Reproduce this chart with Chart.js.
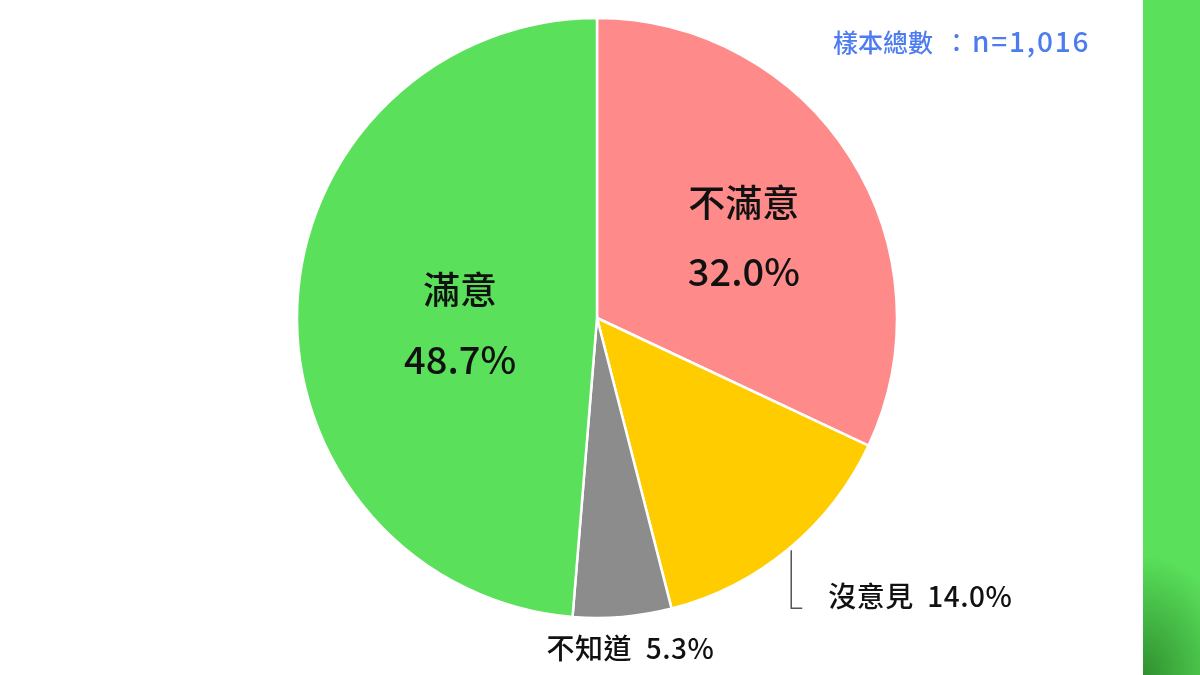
<!DOCTYPE html>
<html>
<head>
<meta charset="utf-8">
<script src="https://cdn.jsdelivr.net/npm/chart.js@4/dist/chart.umd.min.js"></script>
<style>
  html, body { margin: 0; padding: 0; background: #fff; }
  #wrap { position: relative; width: 1200px; height: 675px; overflow: hidden; background: #fff; }
  #strip {
    position: absolute; left: 1143px; top: 0; width: 57px; height: 675px;
    background: radial-gradient(ellipse 90px 120px at 0px 675px, rgba(40,130,40,0.85), rgba(90,224,90,0) 100%), #5ae05a;
  }
  #note {
    position: absolute; left: 833px; top: 24px; font: 500 25px "Noto Sans CJK TC", "Noto Sans", sans-serif;
    color: #4d7cf0; white-space: nowrap; line-height: 32px;
  }
  #note .colon { margin-left: 11px; }
  #note .num { font-size: 28px; letter-spacing: 1.8px; margin-left: 3px; }
  canvas { position: absolute; left: 0; top: 0; }
</style>
</head>
<body>
<div id="wrap">
  <canvas id="pie" width="1200" height="675"></canvas>
  <div id="note">樣本總數<span class="colon">：</span><span class="num">n=1,016</span></div>
  <div id="strip"></div>
</div>
<script>
// data
const categories = ["不滿意", "沒意見", "不知道", "滿意"]
const shares = [32.0, 14.0, 5.3, 48.7]
const sliceColors = ["#ff8a8a", "#ffcc00", "#8c8c8c", "#5ae05a"]

// how each label is placed
const labelStyle = [
  { mode: "inside", r: 0.56, dx: 5, dy: 10 },
  { mode: "leader" },
  { mode: "below" },
  { mode: "inside", r: 0.46, dx: 1, dy: 13 },
]

const cjk = '"Noto Sans CJK TC", "Noto Sans", sans-serif'

const sliceLabels = {
  id: "sliceLabels",
  afterDatasetsDraw(chart) {
    const ctx = chart.ctx
    const arcs = chart.getDatasetMeta(0).data
    ctx.save()
    ctx.fillStyle = "#111"
    ctx.textBaseline = "middle"
    arcs.forEach((arc, i) => {
      const mid = (arc.startAngle + arc.endAngle) / 2
      const st = labelStyle[i]
      const pct = shares[i].toFixed(1) + "%"
      if (st.mode === "inside") {
        const x = arc.x + Math.cos(mid) * arc.outerRadius * st.r + st.dx
        const y = arc.y + Math.sin(mid) * arc.outerRadius * st.r + st.dy
        ctx.textAlign = "center"
        ctx.font = "500 37px " + cjk
        ctx.fillText(categories[i], x, y - 35)
        ctx.font = "500 38px " + cjk
        ctx.fillText(pct, x, y + 34)
      } else {
        const ex = arc.x + Math.cos(mid) * arc.outerRadius
        const ey = arc.y + Math.sin(mid) * arc.outerRadius
        ctx.font = "500 28px " + cjk
        ctx.letterSpacing = "0.5px"
        if (st.mode === "leader") {
          ctx.strokeStyle = "#555"
          ctx.lineWidth = 1.5
          ctx.beginPath()
          ctx.moveTo(ex + 3, ey + 1)
          ctx.lineTo(ex + 3, ey + 59)
          ctx.lineTo(ex + 14, ey + 59)
          ctx.stroke()
          ctx.textAlign = "left"
          ctx.fillText(categories[i] + "  " + pct, ex + 40, ey + 47)
        } else {
          ctx.textAlign = "center"
          ctx.fillText(categories[i] + "  " + pct, ex + 8, ey + 31)
        }
        ctx.letterSpacing = "0px"
      }
    })
    ctx.restore()
  },
}

new Chart(document.getElementById("pie"), {
  type: "pie",
  data: {
    labels: categories,
    datasets: [
      {
        data: shares,
        backgroundColor: sliceColors,
        borderColor: "#ffffff",
        borderWidth: 2.5,
      },
    ],
  },
  options: {
    responsive: false,
    animation: false,
    radius: 300,
    layout: { padding: { left: 0, right: 6, top: 0, bottom: 39 } },
    plugins: {
      legend: { display: false },
      tooltip: { enabled: false },
    },
  },
  plugins: [sliceLabels],
})
</script>
</body>
</html>
